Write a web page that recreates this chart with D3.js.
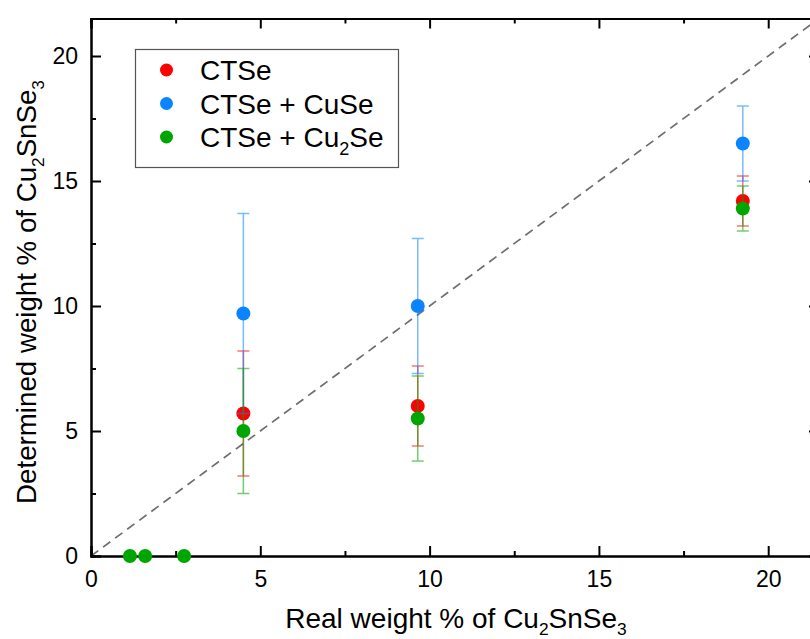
<!DOCTYPE html>
<html><head><meta charset="utf-8">
<script src="https://cdn.jsdelivr.net/npm/d3@7"></script>
<style>
html,body{margin:0;padding:0;background:#fff;}
svg{display:block;font-family:"Liberation Sans",Arial,sans-serif;}
</style></head>
<body>
<svg id="chart" width="810" height="639"></svg>
<script>
// ---- data ----
const seriesNames = ["CTSe", "CTSe + CuSe", "CTSe + Cu2Se"];
const seriesColors = ["#ff0000", "#0a84ff", "#00a600"];
const ctseX = [4.5, 9.65, 19.25];
const ctseY = [5.7, 6.0, 14.2];
const ctseErr = [2.5, 1.6, 1.0];
const cuseX = [4.5, 9.65, 19.25];
const cuseY = [9.7, 10.0, 16.5];
const cuseErr = [4.0, 2.7, 1.5];
const cu2seX = [1.15, 1.6, 2.75, 4.5, 9.65, 19.25];
const cu2seY = [0, 0, 0, 5.0, 5.5, 13.9];
const cu2seErr = [0, 0, 0, 2.5, 1.7, 0.9];
const majorTicks = [0, 5, 10, 15, 20];
const minorTicks = [2.5, 7.5, 12.5, 17.5];

const svg = d3.select("#chart");
const L = 91, R = 819, T = 18.5, B = 556;
const x = d3.scaleLinear().domain([0, 21.5]).range([L, R]);
const y = d3.scaleLinear().domain([0, 21.5]).range([B, T]);

// diagonal y = x
svg.append("line")
  .attr("x1", x(0)).attr("y1", y(0)).attr("x2", x(21.5)).attr("y2", y(21.5))
  .attr("stroke", "#6e6e6e").attr("stroke-width", 1.7).attr("stroke-dasharray", "9,6");

// axes
function styleAxis(g) {
  g.selectAll(".domain").attr("stroke", "#000").attr("stroke-width", 2);
  g.selectAll(".tick line").attr("stroke", "#000").attr("stroke-width", 2);
  g.selectAll("text").attr("font-size", 23).attr("fill", "#000").attr("font-family", "Liberation Sans, Arial, sans-serif");
}
svg.append("g").attr("transform", `translate(0,${B})`)
  .call(d3.axisBottom(x).tickValues(majorTicks).tickSize(-10).tickPadding(15).tickFormat(d3.format("d")))
  .call(styleAxis);
svg.append("g").attr("transform", `translate(0,${B})`)
  .call(d3.axisBottom(x).tickValues(minorTicks).tickSize(-5).tickFormat(""))
  .call(styleAxis);
svg.append("g").attr("transform", `translate(0,${T})`)
  .call(d3.axisTop(x).tickValues(majorTicks).tickSize(-10).tickFormat(""))
  .call(styleAxis);
svg.append("g").attr("transform", `translate(0,${T})`)
  .call(d3.axisTop(x).tickValues(minorTicks).tickSize(-5).tickFormat(""))
  .call(styleAxis);
svg.append("g").attr("transform", `translate(${L},0)`)
  .call(d3.axisLeft(y).tickValues(majorTicks).tickSize(-10).tickPadding(13).tickFormat(d3.format("d")))
  .call(styleAxis);
svg.append("g").attr("transform", `translate(${L},0)`)
  .call(d3.axisLeft(y).tickValues(minorTicks).tickSize(-5).tickFormat(""))
  .call(styleAxis);
svg.append("g").attr("transform", `translate(${R},0)`)
  .call(d3.axisRight(y).tickValues(majorTicks).tickSize(-10).tickFormat(""))
  .call(styleAxis);
svg.append("g").attr("transform", `translate(${R},0)`)
  .call(d3.axisRight(y).tickValues(minorTicks).tickSize(-5).tickFormat(""))
  .call(styleAxis);

// series
const series = [
  {xs: ctseX, ys: ctseY, es: ctseErr},
  {xs: cuseX, ys: cuseY, es: cuseErr},
  {xs: cu2seX, ys: cu2seY, es: cu2seErr}
];
series.forEach((s, i) => {
  const pts = s.xs.map((v, j) => ({x: v, y: s.ys[j], e: s.es[j]}));
  const eg = svg.append("g").attr("stroke", seriesColors[i]).attr("stroke-width", 1.5).attr("opacity", 0.55);
  pts.filter(p => p.e > 0).forEach(p => {
    eg.append("line").attr("x1", x(p.x)).attr("x2", x(p.x)).attr("y1", y(p.y - p.e)).attr("y2", y(p.y + p.e));
    [p.y - p.e, p.y + p.e].forEach(v => {
      eg.append("line").attr("x1", x(p.x) - 6).attr("x2", x(p.x) + 6).attr("y1", y(v)).attr("y2", y(v));
    });
  });
  svg.append("g").selectAll("circle").data(pts).join("circle")
    .attr("cx", p => x(p.x)).attr("cy", p => y(p.y)).attr("r", 7)
    .attr("fill", seriesColors[i]);
});

// legend
const lg = svg.append("g");
lg.append("rect").attr("x", 135.5).attr("y", 49.5).attr("width", 263).attr("height", 118)
  .attr("fill", "#fff").attr("stroke", "#555").attr("stroke-width", 1.2);
const legendRows = [80, 113.5, 147];
seriesNames.forEach((n, i) => {
  lg.append("circle").attr("cx", 166.5).attr("cy", legendRows[i] - 10).attr("r", 6.5).attr("fill", seriesColors[i]);
  const t = lg.append("text").attr("x", 200).attr("y", legendRows[i]).attr("font-size", 28).attr("fill", "#000");
  if (n.includes("Cu2Se")) {
    t.append("tspan").text("CTSe + Cu");
    t.append("tspan").text("2").attr("font-size", 18).attr("dy", 8);
    t.append("tspan").text("Se").attr("dy", -8);
  } else {
    t.text(n);
  }
});

// axis titles
function chem(t, prefix, size, sub) {
  t.append("tspan").text(prefix + "Cu");
  t.append("tspan").text("2").attr("font-size", size * 0.62).attr("dy", sub);
  t.append("tspan").text("SnSe").attr("dy", -sub);
  t.append("tspan").text("3").attr("font-size", size * 0.62).attr("dy", sub);
}
const xt = svg.append("text").attr("x", 456).attr("y", 628).attr("text-anchor", "middle")
  .attr("font-size", 28).attr("fill", "#000");
chem(xt, "Real weight % of ", 28, 6.5);
const yt = svg.append("text").attr("transform", "translate(36,292) rotate(-90)").attr("text-anchor", "middle")
  .attr("font-size", 27.7).attr("fill", "#000");
chem(yt, "Determined weight % of ", 27.7, 7.5);
</script>
</body></html>
